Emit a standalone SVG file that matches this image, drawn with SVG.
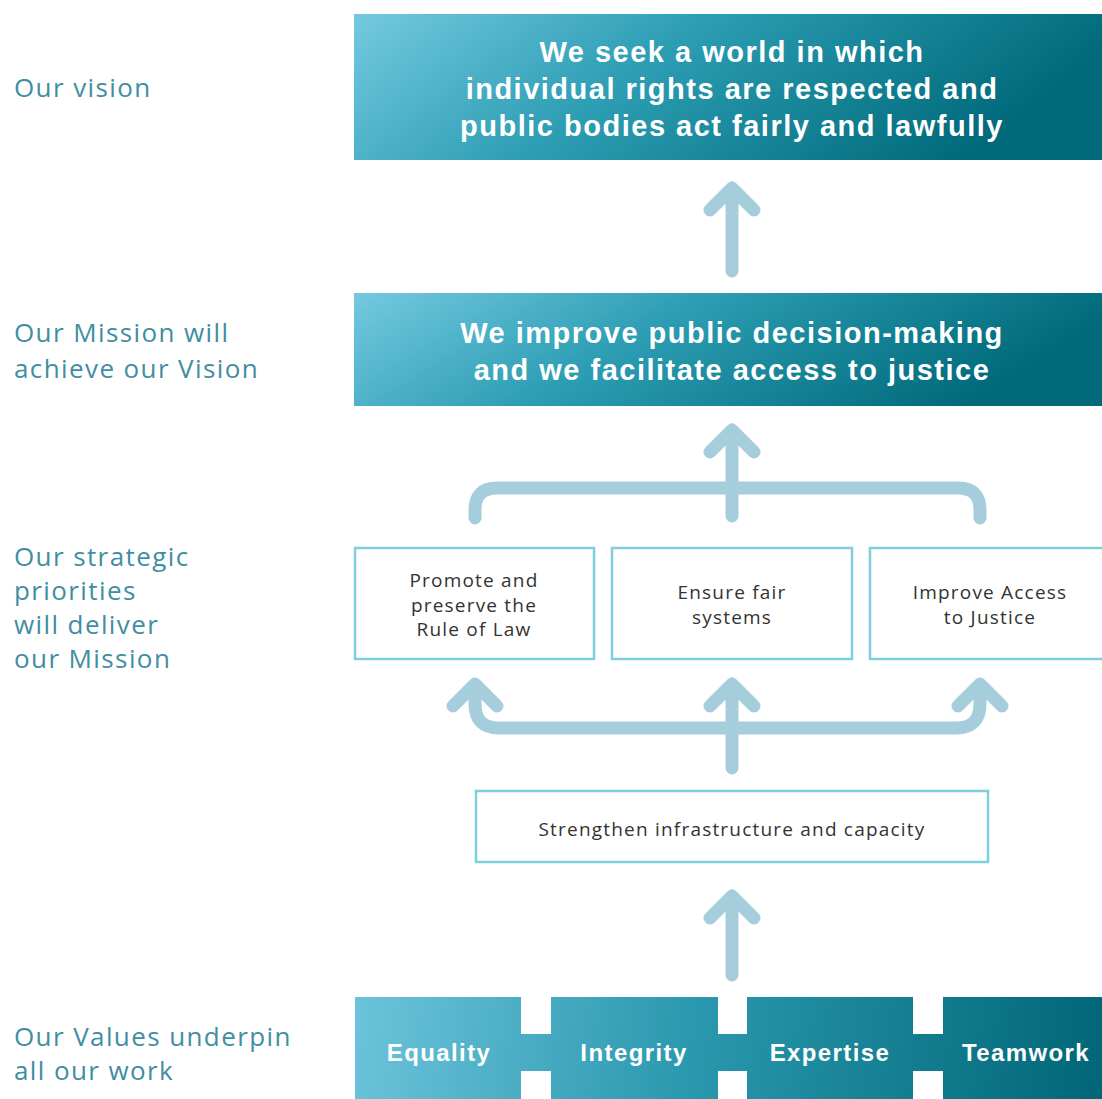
<svg xmlns="http://www.w3.org/2000/svg" width="1102" height="1099" viewBox="0 0 1102 1099">
<defs>
<linearGradient id="gBar" x1="0" y1="0" x2="1" y2="0.25">
<stop offset="0" stop-color="#74c9e0"/>
<stop offset="0.45" stop-color="#2c9db3"/>
<stop offset="1" stop-color="#006a7b"/>
</linearGradient>
<linearGradient id="gVal" gradientUnits="userSpaceOnUse" x1="355" y1="997" x2="1102" y2="1099">
<stop offset="0" stop-color="#6cc3db"/>
<stop offset="0.45" stop-color="#2a98ae"/>
<stop offset="1" stop-color="#006677"/>
</linearGradient>
<style>
.lbl{font-family:"Open Sans","Liberation Sans",sans-serif;font-size:26px;letter-spacing:1.4px;fill:#3f8ea2}
.big{font-family:"Liberation Sans",Arial,sans-serif;font-weight:bold;font-size:29px;letter-spacing:1.5px;fill:#ffffff;text-anchor:middle}
.box{fill:#ffffff;stroke:#7fd0de;stroke-width:2.5}
.txt{font-family:"Open Sans","Liberation Sans",sans-serif;font-size:19px;letter-spacing:1.2px;fill:#333333;text-anchor:middle}
.val{font-family:"Liberation Sans",Arial,sans-serif;font-weight:bold;font-size:24px;letter-spacing:1.4px;fill:#ffffff;text-anchor:middle}
.arr{fill:none;stroke:#a6cddb;stroke-width:13;stroke-linecap:round;stroke-linejoin:round}
</style>
</defs>
<rect width="1102" height="1099" fill="#ffffff"/>

<g id="labels">
<text class="lbl" x="14" y="97">Our vision</text>
<text class="lbl" x="14" y="342">Our Mission will</text>
<text class="lbl" x="14" y="378">achieve our Vision</text>
<text class="lbl" x="14" y="566">Our strategic</text>
<text class="lbl" x="14" y="600">priorities</text>
<text class="lbl" x="14" y="634">will deliver</text>
<text class="lbl" x="14" y="668">our Mission</text>
<text class="lbl" x="14" y="1046">Our Values underpin</text>
<text class="lbl" x="14" y="1080">all our work</text>
</g>

<g id="vision">
<rect x="354" y="14" width="748" height="146" fill="url(#gBar)"/>
<text class="big" x="732" y="62">We seek a world in which</text>
<text class="big" x="732" y="99">individual rights are respected and</text>
<text class="big" x="732" y="136">public bodies act fairly and lawfully</text>
</g>

<g id="mission">
<rect x="354" y="293" width="748" height="113" fill="url(#gBar)"/>
<text class="big" x="732" y="343">We improve public decision-making</text>
<text class="big" x="732" y="380">and we facilitate access to justice</text>
</g>

<g id="priority-rule-of-law">
<rect class="box" x="355" y="548" width="239" height="111"/>
<text class="txt" x="474" y="587">Promote and</text>
<text class="txt" x="474" y="612">preserve the</text>
<text class="txt" x="474" y="636">Rule of Law</text>
</g>
<g id="priority-fair-systems">
<rect class="box" x="612" y="548" width="240" height="111"/>
<text class="txt" x="732" y="599">Ensure fair</text>
<text class="txt" x="732" y="624">systems</text>
</g>
<g id="priority-access">
<rect class="box" x="870" y="548" width="240" height="111"/>
<text class="txt" x="990" y="599">Improve Access</text>
<text class="txt" x="990" y="624">to Justice</text>
</g>

<g id="infrastructure">
<rect class="box" x="476" y="791" width="512" height="71"/>
<text class="txt" x="732" y="836">Strengthen infrastructure and capacity</text>
</g>

<g id="values">
<rect x="355" y="997" width="747" height="102" fill="url(#gVal)"/>
<rect x="521" y="997" width="30" height="37" fill="#ffffff"/>
<rect x="521" y="1071" width="30" height="28" fill="#ffffff"/>
<rect x="718" y="997" width="29" height="37" fill="#ffffff"/>
<rect x="718" y="1071" width="29" height="28" fill="#ffffff"/>
<rect x="913" y="997" width="30" height="37" fill="#ffffff"/>
<rect x="913" y="1071" width="30" height="28" fill="#ffffff"/>
<text class="val" x="439" y="1061">Equality</text>
<text class="val" x="634" y="1061">Integrity</text>
<text class="val" x="830" y="1061">Expertise</text>
<text class="val" x="1026" y="1061">Teamwork</text>
</g>

<g id="connectors">
<path class="arr" d="M732 271 V188 M710 210 L732 188 L754 210"/>
<path class="arr" d="M475 518 V510 Q475 488 497 488 H958 Q980 488 980 510 V518"/>
<path class="arr" d="M732 516 V430 M710 452 L732 430 L754 452"/>
<path class="arr" d="M475 686 V704 Q475 728 499 728 H956 Q980 728 980 704 V686"/>
<path class="arr" d="M453 706 L475 684 L497 706"/>
<path class="arr" d="M958 706 L980 684 L1002 706"/>
<path class="arr" d="M732 768 V684 M710 706 L732 684 L754 706"/>
<path class="arr" d="M732 975 V896 M710 918 L732 896 L754 918"/>
</g>
</svg>
